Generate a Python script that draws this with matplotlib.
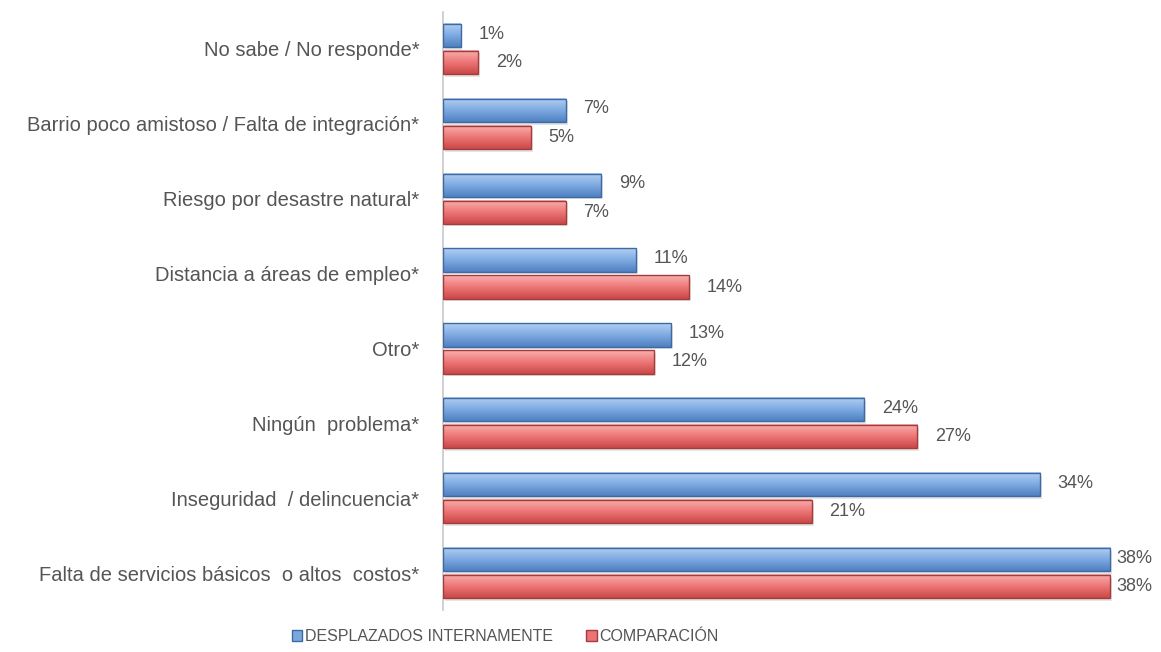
import numpy as np
import matplotlib.pyplot as plt
from matplotlib.colors import LinearSegmentedColormap
from matplotlib.patches import Patch

categories = ['No sabe / No responde*', 'Barrio poco amistoso / Falta de integración*',
              'Riesgo por desastre natural*', 'Distancia a áreas de empleo*', 'Otro*',
              'Ningún  problema*', 'Inseguridad  / delincuencia*',
              'Falta de servicios básicos  o altos  costos*']
desplazados = [1, 7, 9, 11, 13, 24, 34, 38]
comparacion = [2, 5, 7, 14, 12, 27, 21, 38]

blue, blue_edge = '#7ba7de', '#3d6aa3'
red, red_edge = '#ec7373', '#a33c3c'
blue_cmap = LinearSegmentedColormap.from_list('b', ['#4f80c0', '#7eaae2', '#b3d0f2'])
red_cmap = LinearSegmentedColormap.from_list('r', ['#c94848', '#ee7676', '#f8b0b0'])
text_color = '#555555'
plt.rcParams['font.family'] = ['Liberation Sans', 'DejaVu Sans']

fig = plt.figure(figsize=(11.61, 6.52), dpi=100)
ax = fig.add_axes([0.3816, 0.0637, 0.605, 0.9186])

n = len(categories)
pos = [n - 1 - i for i in range(n)]
h = 0.31
grad = np.linspace(0, 1, 64).reshape(-1, 1)


def draw_bar(y, val, cmap, edge):
    # shadow
    ax.barh(y - 0.035, val, height=h, left=0.1, color='#000000', alpha=0.10, zorder=1)
    ax.imshow(grad, cmap=cmap, origin='lower', aspect='auto',
              extent=(0, val, y - h / 2, y + h / 2), zorder=2)
    ax.barh(y, val, height=h, facecolor='none', edgecolor=edge, linewidth=1.0, zorder=3)


for p, d, c in zip(pos, desplazados, comparacion):
    yb = p + h / 2 + 0.025
    yr = p - h / 2 - 0.025
    draw_bar(yb, d, blue_cmap, blue_edge)
    draw_bar(yr, c, red_cmap, red_edge)
    off = 0.35 if d >= 38 else 1.0
    ax.text(d + off, yb + 0.02, f'{d}%', va='center', ha='left', fontsize=13,
            color=text_color)
    off = 0.35 if c >= 38 else 1.0
    ax.text(c + off, yr, f'{c}%', va='center', ha='left', fontsize=13,
            color=text_color)

ax.set_xlim(0, 40)
ax.set_ylim(-0.5, n - 0.5)
ax.set_yticks(pos)
ax.set_yticklabels(categories, fontsize=14.5, color=text_color)
ax.tick_params(axis='y', length=0, pad=17)
ax.set_xticks([])
for s in ['top', 'right', 'bottom']:
    ax.spines[s].set_visible(False)
ax.spines['left'].set_color('#c8c8c8')
ax.spines['left'].set_linewidth(1.2)

handles = [Patch(facecolor=blue, edgecolor=blue_edge, label='DESPLAZADOS INTERNAMENTE'),
           Patch(facecolor=red, edgecolor=red_edge, label='COMPARACIÓN')]
fig.legend(handles=handles, loc='center', bbox_to_anchor=(0.435, 0.024), ncol=2,
           frameon=False, fontsize=11.5, handlelength=0.65, handleheight=0.65,
           handletextpad=0.15, columnspacing=2.1, labelcolor=text_color)

fig.savefig('out.png', dpi=100)
